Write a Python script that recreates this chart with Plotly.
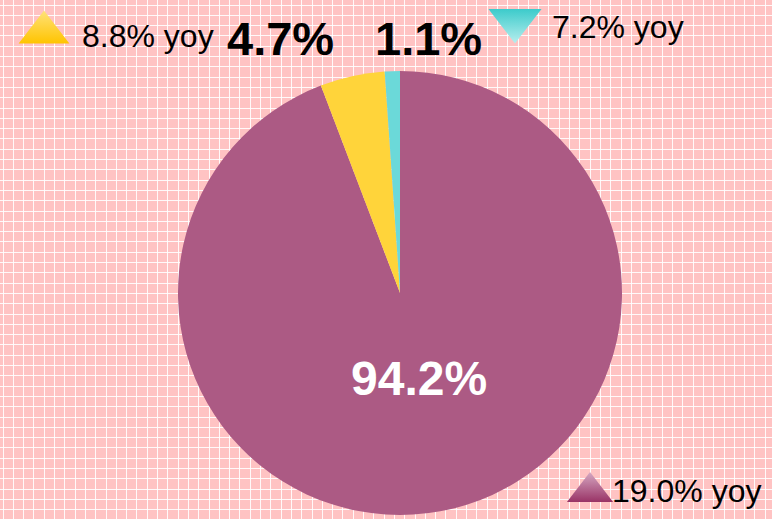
import plotly.graph_objects as go

# ---- data ----
segments = ["Segment A", "Segment B", "Segment C"]
shares = [94.2, 4.7, 1.1]            # % share of total
yoy_change = [19.0, 8.8, 7.2]        # % year-over-year
yoy_direction = ["up", "up", "down"]

# ---- styles ----
slice_colors = ["#AC5A84", "#FFD43A", "#6BD9D9"]
tri_top = ["#D6A8C2", "#FFE27A", "#3CCBCB"]
tri_bottom = ["#993366", "#FFC400", "#B8EEEE"]
bg = "#FFC3C3"
W, H = 772, 519

fig = go.Figure()

# pie
fig.add_trace(go.Pie(
    labels=segments, values=shares, sort=False, direction="clockwise", rotation=0,
    marker=dict(colors=slice_colors, line=dict(width=0)),
    textinfo="none", hoverinfo="label+percent", showlegend=False,
    domain=dict(x=[178 / W, 622 / W], y=[4 / H, 448 / H]),
))

# yoy indicator triangles (decorations positioned in pixel space)
tri_pos = [(590, 492, 40), (44, 32.5, 44), (515, 20.5, 46)]
for i in range(3):
    x, y, s = tri_pos[i]
    up = yoy_direction[i] == "up"
    fig.add_trace(go.Scatter(
        x=[x], y=[y], mode="markers", showlegend=False, hoverinfo="skip",
        marker=dict(symbol="triangle-up" if up else "triangle-down", size=s,
                    color=tri_top[i],
                    gradient=dict(type="vertical", color=tri_bottom[i]),
                    line=dict(width=0)),
    ))

font = "Arial, Liberation Sans, sans-serif"
ann = []
# share labels
share_pos = [(419, 378, "white"), (280, 38, "black"), (428, 38, "black")]
for i in range(3):
    x, y, c = share_pos[i]
    ann.append(dict(x=x, y=y, xref="x", yref="y", text=f"<b>{shares[i]:.1f}%</b>",
                    showarrow=False, font=dict(family=font, size=48 if i == 0 else 47, color=c),
                    xanchor="center", yanchor="middle"))
# yoy labels
yoy_pos = [(686, 491), (148, 36), (618, 27)]
for i in range(3):
    x, y = yoy_pos[i]
    ann.append(dict(x=x, y=y, xref="x", yref="y", text=f"{yoy_change[i]:.1f}% yoy",
                    showarrow=False, font=dict(family=font, size=32, color="black"),
                    xanchor="center", yanchor="middle"))

fig.update_layout(
    width=W, height=H, margin=dict(l=0, r=0, t=0, b=0),
    paper_bgcolor=bg, plot_bgcolor=bg,
    xaxis=dict(range=[0, W], domain=[0, 1], showgrid=True, gridcolor="rgba(255,255,255,0.9)",
               gridwidth=1, tick0=3, dtick=10.3, showticklabels=False, ticks="",
               zeroline=False, showline=False, fixedrange=True),
    yaxis=dict(range=[H, 0], domain=[0, 1], showgrid=True, gridcolor="rgba(255,255,255,0.9)",
               gridwidth=1, tick0=5, dtick=10.3, showticklabels=False, ticks="",
               zeroline=False, showline=False, fixedrange=True),
    annotations=ann,
)

fig.write_html(
    "out.html",
    config={"displayModeBar": False},
    post_script="document.body.style.margin='0';document.body.style.overflow='hidden';",
)
